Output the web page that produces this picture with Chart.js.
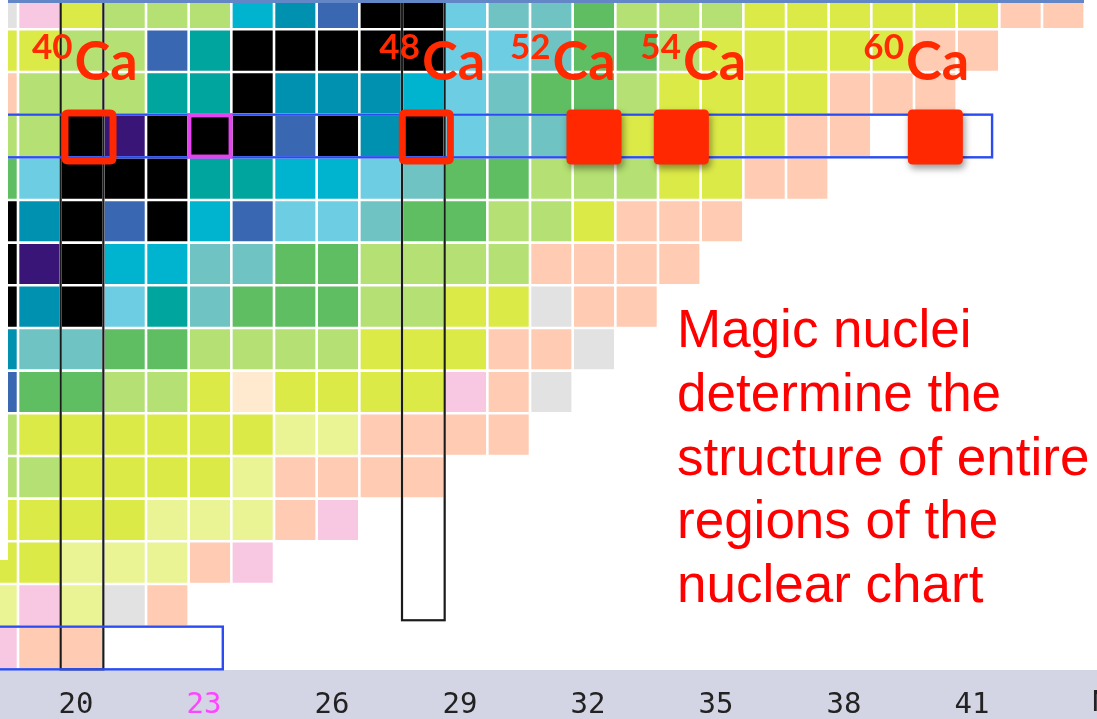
<!DOCTYPE html>
<html lang="en">
<head>
<meta charset="UTF-8">
<title>Magic nuclei - calcium region of the nuclear chart</title>
<script src="https://cdn.jsdelivr.net/npm/chart.js@4.4.1/dist/chart.umd.min.js"></script>
<style>
  html, body { margin: 0; padding: 0; background: #fff; }
  #wrap { width: 1097px; height: 719px; }
</style>
</head>
<body>
<div id="wrap"><canvas id="chart" width="1097" height="719"></canvas></div>
<script>
// columns (neutron number N) and rows (proton number Z) visible in the crop
const neutronNumbers = [18,19,20,21,22,23,24,25,26,27,28,29,30,31,32,33,34,35,36,37,38,39,40,41,42,43];
const protonNumbers = [23,22,21,20,19,18,17,16,15,14,13,12,11,10,9,8];

// half-life class per cell, one letter per N column, '.' = no nuclide drawn
const rowClasses = [
  'RIYgggCDBKKLGGNgggYYYYYYOO', // Z=23
  'YYggBTKKKKKLLGNNgYYYYYOO..', // Z=22
  'OgggTTKDDDCLGNNgYYYYOOO...', // Z=21
  'ggKPKKKBKDKLGGNYYYYOO.....', // Z=20
  'NLKKKTTCCLGNNgggYYOO......', // Z=19
  'KDKBKCBLLGNNggYOOO........', // Z=18
  'KPKCCGGNNggggOOOO.........', // Z=17
  'KDKLTGNNNggYYROO..........', // Z=16
  'DGGNNggggYYYOOR...........', // Z=15
  'BNNggYEYYYYIOR............', // Z=14
  'gYYYYYYyyOOOO.............', // Z=13
  'ggYYYYyOOOO...............', // Z=12
  'YYYYyyyOI.................', // Z=11
  'YYyyyOI...................', // Z=10
  'yIyRO.....................', // Z=9
  'IOO.......................'  // Z=8
];

const classColors = {
  K: '#000000', P: '#3a1578', B: '#3a67b2', D: '#0091b0', C: '#00b3cf',
  L: '#6dcde2', T: '#00a59e', G: '#70c3c3', N: '#5fbe62', g: '#b5e073',
  Y: '#dcea48', y: '#eaf495', O: '#ffccb3', I: '#f8c7e2', R: '#e2e2e2', E: '#ffead0'
};

const xTickValues = [20, 23, 26, 29, 32, 35, 38, 41];
const highlightTick = 23;

// calcium isotopes marked on the Z=20 row
const caMasses = [40, 48, 52, 54, 60];
const caFilled = [false, false, true, true, true];
const caZ = 20;

// magic isotone columns and highlighted isotope rows
const magicColumnsN = [20, 28];
const magicColumnsLowZ = [7.5, 8.65];
const rowBoxZ = [20, 8];
const rowBoxEndN = [41.33, 23.3];
const pinkBoxN = 23;

const messageLines = ['Magic nuclei', 'determine the', 'structure of entire', 'regions of the', 'nuclear chart'];

const cells = [];
protonNumbers.forEach((z, r) => {
  neutronNumbers.forEach((n, c) => {
    const cls = rowClasses[r][c];
    if (cls !== '.') cells.push({ x: n, y: z, cls: cls });
  });
});

function pitch(chart) {
  const s = chart.scales.x;
  const p = s.getPixelForValue(1) - s.getPixelForValue(0);
  return isFinite(p) && p > 0 ? p : 42.67;
}

function roundRect(ctx, x, y, w, h, r) {
  ctx.beginPath();
  ctx.moveTo(x + r, y);
  ctx.lineTo(x + w - r, y);
  ctx.quadraticCurveTo(x + w, y, x + w, y + r);
  ctx.lineTo(x + w, y + h - r);
  ctx.quadraticCurveTo(x + w, y + h, x + w - r, y + h);
  ctx.lineTo(x + r, y + h);
  ctx.quadraticCurveTo(x, y + h, x, y + h - r);
  ctx.lineTo(x, y + r);
  ctx.quadraticCurveTo(x, y, x + r, y);
  ctx.closePath();
}

// where labels and markers sit relative to their cell (px), as on the slide
const labelShift = [-50, -44, -84, -39, -72];
const markerShift = [7, 3, 0, 2, 0];

const decor = {
  id: 'decor',
  beforeDraw(chart) {
    const { ctx, chartArea, width, height } = chart;
    ctx.save();
    ctx.fillStyle = '#ffffff';
    ctx.fillRect(0, 0, width, height);
    ctx.fillStyle = '#d3d4e4';
    ctx.fillRect(0, chartArea.bottom, width, height - chartArea.bottom);
    ctx.restore();
  },
  afterDatasetsDraw(chart) {
    const { ctx, width } = chart;
    const xs = chart.scales.x, ys = chart.scales.y;
    const X = v => xs.getPixelForValue(v);
    const Y = v => ys.getPixelForValue(v);
    const p = pitch(chart);
    ctx.save();

    // magic N columns
    ctx.strokeStyle = '#1b1b1b';
    ctx.lineWidth = 2.2;
    magicColumnsN.forEach((n, i) => {
      const top = -10, bottom = Y(magicColumnsLowZ[i]);
      ctx.strokeRect(X(n - 0.5), top, X(n + 0.5) - X(n - 0.5), bottom - top);
    });

    // isotope chains boxed in blue
    ctx.strokeStyle = '#2a4cf2';
    ctx.lineWidth = 2.4;
    rowBoxZ.forEach((z, i) => {
      const left = -10;
      ctx.strokeRect(left, Y(z + 0.5), X(rowBoxEndN[i]) - left, Y(z - 0.5) - Y(z + 0.5));
    });

    // panel edge artefacts of the original slide
    ctx.fillStyle = '#ffffff';
    ctx.fillRect(0, 0, 8, 560);
    ctx.strokeStyle = '#6286c6';
    ctx.lineWidth = 3;
    ctx.beginPath();
    ctx.moveTo(8, 1.5);
    ctx.lineTo(1084, 1.5);
    ctx.stroke();

    // magenta box around 43Ca
    ctx.strokeStyle = '#e444ee';
    ctx.lineWidth = 4;
    const side = p - 1.5;
    ctx.strokeRect(X(pinkBoxN) - side / 2, Y(caZ) - side / 2, side, side);

    // calcium markers
    const m = p * 1.29;
    caMasses.forEach((a, i) => {
      const cx = X(a - caZ) + markerShift[i], cy = Y(caZ) + 1;
      if (caFilled[i]) {
        ctx.save();
        ctx.shadowColor = 'rgba(0,0,0,0.4)';
        ctx.shadowBlur = 7;
        ctx.shadowOffsetX = 2;
        ctx.shadowOffsetY = 4;
        ctx.fillStyle = '#ff2800';
        roundRect(ctx, cx - m / 2, cy - m / 2, m, m, 5);
        ctx.fill();
        ctx.restore();
      } else {
        ctx.strokeStyle = '#ff2800';
        ctx.lineWidth = 7;
        roundRect(ctx, cx - m / 2 + 3.5, cy - m / 2 + 3.5, m - 7, m - 7, 3);
        ctx.stroke();
      }
    });

    // isotope labels
    ctx.fillStyle = '#ff2a00';
    ctx.textAlign = 'left';
    ctx.textBaseline = 'alphabetic';
    caMasses.forEach((a, i) => {
      const x0 = X(a - caZ) + labelShift[i];
      const y0 = Y(caZ);
      ctx.font = 'bold 35px Lato';
      const sup = String(a);
      ctx.fillText(sup, x0, y0 - 77);
      const w = ctx.measureText(sup).width;
      ctx.font = 'bold 54px Lato';
      ctx.fillText('Ca', x0 + w + 2, y0 - 56);
    });

    // message text
    ctx.fillStyle = '#ff0000';
    ctx.font = '53px "Liberation Sans", Arial, sans-serif';
    messageLines.forEach((t, i) => {
      ctx.fillText(t, 677, 347 + i * 63.8);
    });

    // axis title peeking in at the right edge
    ctx.fillStyle = '#222222';
    ctx.font = '29px "DejaVu Sans Mono", monospace';
    ctx.textBaseline = 'middle';
    ctx.fillText('N', width - 5, 703);
    ctx.restore();
  }
};

new Chart(document.getElementById('chart'), {
  type: 'scatter',
  data: {
    datasets: [{
      data: cells,
      pointStyle: 'rect',
      pointRadius: ctx => (pitch(ctx.chart) - 2.6) / 2 / Math.SQRT1_2,
      pointHoverRadius: ctx => (pitch(ctx.chart) - 2.6) / 2 / Math.SQRT1_2,
      pointBorderWidth: 0,
      pointHoverBorderWidth: 0,
      backgroundColor: ctx => ctx.raw ? classColors[ctx.raw.cls] : '#fff',
      hoverBackgroundColor: ctx => ctx.raw ? classColors[ctx.raw.cls] : '#fff'
    }]
  },
  options: {
    responsive: false,
    animation: false,
    events: [],
    layout: { padding: 0, autoPadding: false },
    plugins: { legend: { display: false }, tooltip: { enabled: false } },
    scales: {
      x: {
        type: 'linear',
        position: 'bottom',
        min: 18.078,
        max: 43.789,
        grid: { display: false, drawTicks: false },
        border: { display: false },
        afterBuildTicks: s => { s.ticks = xTickValues.map(v => ({ value: v })); },
        afterFit: s => { s.height = 49; },
        ticks: {
          autoSkip: false,
          maxRotation: 0,
          padding: 18,
          labelOffset: -6,
          font: { family: '"DejaVu Sans Mono", monospace', size: 29 },
          color: ctx => ctx.tick && ctx.tick.value === highlightTick ? '#ff44ff' : '#222222'
        }
      },
      y: {
        type: 'linear',
        display: false,
        min: 7.484,
        max: 23.187
      }
    }
  },
  plugins: [decor]
});
</script>
</body>
</html>
